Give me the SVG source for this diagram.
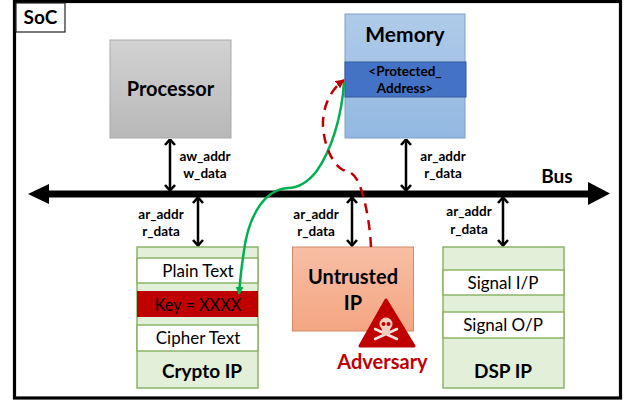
<svg xmlns="http://www.w3.org/2000/svg" width="628" height="400" viewBox="0 0 628 400">
<style>
text{font-family:Lato,"Open Sans","Liberation Sans",sans-serif;text-anchor:middle;fill:#000}
.b{font-weight:700;font-size:20px}
.l{font-weight:700;font-size:21px}
.m{font-weight:700;font-size:19px}
.s{font-size:13.500px;font-weight:700}
.t{font-size:17px}
.green{fill:#e2efd9;stroke:#8cb46a;stroke-width:1.5}
.row{fill:#fff;stroke:#8cb46a;stroke-width:1.5}
.arr{stroke:#000;stroke-width:2.500;fill:none;marker-start:url(#h);marker-end:url(#h)}
</style>
<defs>
<linearGradient id="gp" x1="0" y1="0" x2="0" y2="1"><stop offset="0" stop-color="#d2d2d2"/><stop offset="1" stop-color="#b8b8b8"/></linearGradient>
<linearGradient id="gm" x1="0" y1="0" x2="0" y2="1"><stop offset="0" stop-color="#b0cbe9"/><stop offset="1" stop-color="#92b8e2"/></linearGradient>
<linearGradient id="gu" x1="0" y1="0" x2="0" y2="1"><stop offset="0" stop-color="#f7bfa5"/><stop offset="1" stop-color="#f4a582"/></linearGradient>
<marker id="h" viewBox="0 0 8 12" refX="7.500" refY="6" markerWidth="8" markerHeight="12" orient="auto-start-reverse" markerUnits="userSpaceOnUse"><path d="M1.500 1L7 6L1.500 11" fill="none" stroke="#000" stroke-width="2.600"/></marker>
<marker id="gh" viewBox="0 0 10 10" refX="9" refY="5" markerWidth="8" markerHeight="8" orient="auto" markerUnits="userSpaceOnUse"><path d="M0 0L10 5L0 10Z" fill="#00b050"/></marker>
<marker id="rh" viewBox="0 0 10 10" refX="9" refY="5" markerWidth="9" markerHeight="9" orient="auto" markerUnits="userSpaceOnUse"><path d="M0 0L10 5L0 10Z" fill="#c00000"/></marker>
</defs>
<rect width="628" height="400" fill="#fff"/>
<rect x="14.500" y="1.500" width="606" height="396.500" fill="none" stroke="#000" stroke-width="3.200"/>
<g id="soc"><rect x="16" y="3" width="49" height="29" fill="#fff" stroke="#222" stroke-width="1.200"/><text x="40.500" y="24" class="m">SoC</text></g>
<g id="connectors">
<path d="M49 194H590" stroke="#000" stroke-width="7"/>
<path d="M28 194L49 184V204Z"/>
<path d="M610 193.500L588 182V205Z"/>
<path class="arr" d="M170 139V191"/>
<path class="arr" d="M198 197V246"/>
<path class="arr" d="M406 139V191"/>
<path class="arr" d="M352 197V246"/>
<path class="arr" d="M503 197V246"/>
</g>
<g id="processor"><rect x="110" y="40" width="121" height="98" fill="url(#gp)" stroke="#aaa"/><text x="170.500" y="96" class="b">Processor</text></g>
<g id="memory"><rect x="345" y="14" width="120" height="124" fill="url(#gm)" stroke="#7f9fc4"/><rect x="345" y="62" width="121" height="35" fill="#4472c4" stroke="#355a9c"/>
<text x="405" y="42" class="l">Memory</text>
<text x="405" y="76" class="s">&lt;Protected_</text><text x="405" y="93" class="s">Address&gt;</text></g>
<g id="crypto-ip"><rect x="137" y="247" width="121" height="141" class="green"/>
<rect x="137" y="258" width="121" height="25" class="row"/>
<rect x="137" y="291" width="121" height="26" fill="#c00000"/>
<rect x="137" y="325" width="121" height="26" class="row"/>
<text x="198" y="277" class="t">Plain Text</text><text x="198" y="311" class="t" style="font-size:16.300px">Key = XXXX</text><text x="198" y="344" class="t">Cipher Text</text>
<text x="202" y="378" class="m">Crypto IP</text></g>
<g id="untrusted-ip"><rect x="292.500" y="247" width="121" height="84" fill="url(#gu)" stroke="#d08a6a"/><text x="353" y="284" class="b">Untrusted</text><text x="353" y="310" class="b">IP</text></g>
<g id="dsp-ip"><rect x="443" y="247" width="121" height="141" class="green"/>
<rect x="443" y="270" width="121" height="25" class="row"/>
<rect x="443" y="312" width="121" height="26" class="row"/>
<text x="503" y="289" class="t">Signal I/P</text><text x="503" y="331" class="t">Signal O/P</text>
<text x="503" y="378" class="m">DSP IP</text></g>
<g id="labels">
<text x="205" y="161" class="s">aw_addr</text><text x="205" y="178" class="s">w_data</text>
<text x="443" y="161" class="s">ar_addr</text><text x="443" y="178" class="s">r_data</text>
<text x="161" y="219" class="s">ar_addr</text><text x="161" y="236" class="s">r_data</text>
<text x="316" y="219" class="s">ar_addr</text><text x="316" y="236" class="s">r_data</text>
<text x="469" y="216" class="s">ar_addr</text><text x="469" y="234" class="s">r_data</text>
<text x="557" y="183" class="m">Bus</text>
</g>
<g id="flows">
<path d="M344 82C342 115 332 150 316 172C306 184 296 188 288 188C268 189 248 210 243 258C241 270 240 282 239 294" fill="none" stroke="#00b050" stroke-width="2.500" marker-end="url(#gh)"/>
<path d="M371 247C370 225 366 203 360 186C356 175 350 171 343 170C334 165 325 150 323 127C322 108 330 90 344 80" fill="none" stroke="#c00000" stroke-width="2.500" stroke-dasharray="10 7" marker-end="url(#rh)"/>
</g>
<g id="adversary">
<path d="M386 300L414 346H360Z" fill="#c00000" stroke="#c00000" stroke-width="3" stroke-linejoin="round"/>
<path d="M375 329L397 339M397 329L375 339" stroke="#f5e3da" stroke-width="2.500" stroke-linecap="round"/>
<circle cx="386" cy="324" r="6.500" fill="#f0cfc0"/><rect x="382" y="328" width="8" height="7" fill="#f0cfc0"/>
<circle cx="383.500" cy="324" r="2" fill="#c00000"/><circle cx="388.500" cy="324" r="2" fill="#c00000"/>
<text x="382.500" y="369" class="l" style="fill:#c00000;font-size:20px">Adversary</text>
</g>
</svg>
